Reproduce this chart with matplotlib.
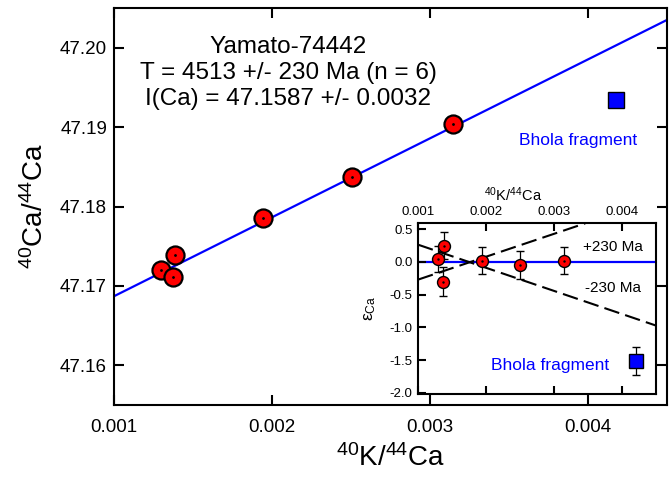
import numpy as np
import matplotlib
matplotlib.use("Agg")
import matplotlib.pyplot as plt

plt.rcParams['font.family'] = ['Liberation Sans', 'DejaVu Sans']
plt.rcParams['mathtext.fontset'] = 'custom'
plt.rcParams['mathtext.rm'] = 'Liberation Sans'
plt.rcParams['mathtext.it'] = 'Liberation Sans:italic'
plt.rcParams['mathtext.default'] = 'regular'

# isochron data (main panel)
k_ca = [0.001296, 0.001384, 0.001372, 0.001945, 0.002506, 0.003146]
ca_ca = [47.1720, 47.1739, 47.1711, 47.1785, 47.1837, 47.1904]
bhola_x = 0.004177
bhola_y = 47.1934
fit_x = [0.001, 0.0045]
fit_y = [47.1687, 47.2035]

# epsilon data (inset)
eps = [0.05, 0.25, -0.30, 0.02, -0.05, 0.02]
eps_err = [0.20, 0.20, 0.22, 0.21, 0.21, 0.21]
bhola_eps_x = 0.00421
bhola_eps = -1.51
bhola_eps_err = 0.21
plus_x = [0.001, 0.00346]
plus_y = [-0.27, 0.59]
minus_x = [0.001, 0.0045]
minus_y = [0.264, -0.971]

xticks = [0.001, 0.002, 0.003, 0.004]
yticks = [47.16, 47.17, 47.18, 47.19, 47.20]
eps_ticks = [-2.0, -1.5, -1.0, -0.5, 0.0, 0.5]

fig = plt.figure(figsize=(6.71, 4.82), dpi=100)

# main plot
ax = fig.add_axes([114 / 671, 77 / 482, 553 / 671, 397 / 482])
ax.plot(fit_x, fit_y, color="blue", lw=1.6, zorder=2)
ax.plot(k_ca, ca_ca, "o", ms=13, mfc="red", mec="black", mew=1.6, zorder=3)
ax.plot(k_ca, ca_ca, ".", ms=2, color="black", zorder=4)
ax.plot(bhola_x, bhola_y, "s", ms=12, mfc="blue", mec="black", mew=1.0, zorder=3)
ax.set_xlim(0.001, 0.0045)
ax.set_ylim(47.155, 47.205)
ax.set_xticks(xticks)
ax.set_xticklabels(["0.001", "0.002", "0.003", "0.004"])
ax.set_yticks(yticks)
ax.set_yticklabels(["%.2f" % v for v in yticks])
ax.tick_params(direction="in", length=7, width=1.5, labelsize=13.5, top=True, right=True)
ax.tick_params(axis="x", pad=10)
ax.tick_params(axis="y", pad=5)
for s in ax.spines.values():
    s.set_linewidth(1.5)
ax.set_xlabel(r"$^{40}$K/$^{44}$Ca", fontsize=20, labelpad=6)
ax.set_ylabel(r"$^{40}$Ca/$^{44}$Ca", fontsize=20, labelpad=8)

ax.text(0.315, 0.903, "Yamato-74442", transform=ax.transAxes, ha="center", va="center", fontsize=17.5)
ax.text(0.315, 0.836, "T = 4513 +/- 230 Ma (n = 6)", transform=ax.transAxes, ha="center", va="center", fontsize=17.5)
ax.text(0.315, 0.772, "I(Ca) = 47.1587 +/- 0.0032", transform=ax.transAxes, ha="center", va="center", fontsize=17.5)
ax.text(0.839, 0.667, "Bhola fragment", transform=ax.transAxes, ha="center", va="center", fontsize=12.5, color="blue")

# inset
ax2 = fig.add_axes([418 / 671, 87.7 / 482, 238 / 671, 171 / 482])
ax2.axhline(0, color="blue", lw=1.6, zorder=1)
ax2.plot(plus_x, plus_y, color="black", lw=1.5, dashes=(7.5, 3), zorder=2)
ax2.plot(minus_x, minus_y, color="black", lw=1.5, dashes=(7.5, 3), zorder=2)
ax2.errorbar(k_ca, eps, yerr=eps_err, fmt="o", ms=8.6, mfc="red", mec="black", mew=1.0,
             ecolor="black", elinewidth=0.9, capsize=3, capthick=0.9, zorder=3)
ax2.plot(k_ca, eps, ".", ms=1.5, color="black", zorder=4)
ax2.errorbar([bhola_eps_x], [bhola_eps], yerr=[bhola_eps_err], fmt="s", ms=9.5, mfc="blue", mec="black",
             mew=1.0, ecolor="black", elinewidth=0.9, capsize=3, capthick=0.9, zorder=3)
ax2.set_xlim(0.001, 0.0045)
ax2.set_ylim(-2.02, 0.59)
ax2.set_xticks(xticks)
ax2.set_xticklabels(["0.001", "0.002", "0.003", "0.004"])
ax2.set_yticks(eps_ticks)
ax2.set_yticklabels(["%.1f" % v for v in eps_ticks])
ax2.xaxis.tick_top()
ax2.xaxis.set_label_position("top")
ax2.tick_params(direction="in", length=6, width=1.5, labelsize=9.5, top=True, bottom=True,
                labeltop=True, labelbottom=False, right=False)
ax2.tick_params(axis="x", pad=4)
ax2.tick_params(axis="y", pad=4)
for s in ax2.spines.values():
    s.set_linewidth(1.5)
ax2.set_xlabel(r"$^{40}$K/$^{44}$Ca", fontsize=10.5)
ax2.xaxis.set_label_coords((513 - 418) / 238, 1.13)
ax2.set_ylabel(r"$\varepsilon_{Ca}$", fontsize=12.5)
ax2.yaxis.set_label_coords(-0.17, 0.5)

ax2.text(0.819, 0.863, "+230 Ma", transform=ax2.transAxes, ha="center", va="center", fontsize=11)
ax2.text(0.819, 0.622, "-230 Ma", transform=ax2.transAxes, ha="center", va="center", fontsize=11)
ax2.text(0.555, 0.167, "Bhola fragment", transform=ax2.transAxes, ha="center", va="center", fontsize=12.5, color="blue")

plt.savefig("out.png", dpi=100)
